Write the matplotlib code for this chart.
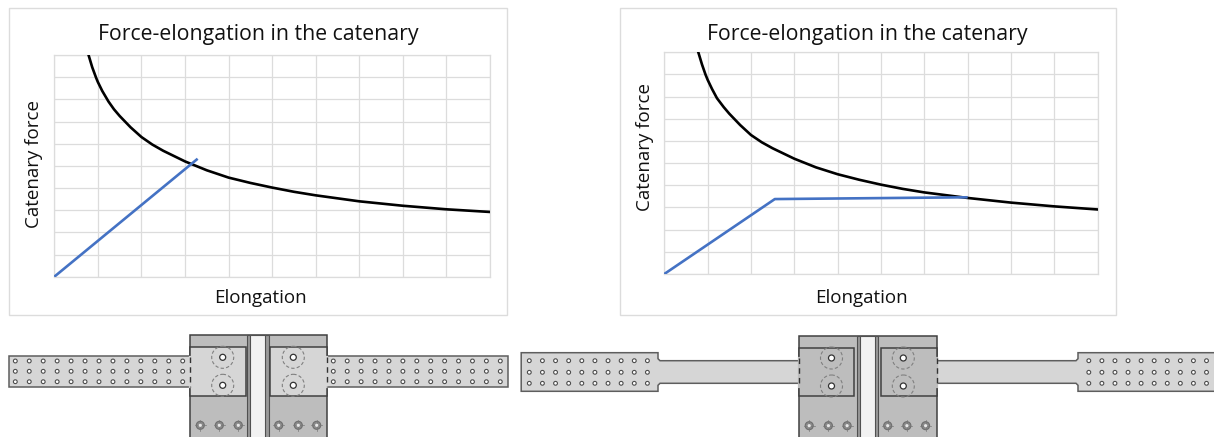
import matplotlib
matplotlib.use('Agg')
import matplotlib.pyplot as plt
from matplotlib.patches import Rectangle, Circle, Polygon
from matplotlib.ticker import MultipleLocator

plt.rcParams['font.family'] = ['Open Sans', 'DejaVu Sans']

W, H = 1214, 437

title = 'Force-elongation in the catenary'
x_label = 'Elongation'
y_label = 'Catenary force'

# valores, em divisoes da grade (0-10)
left_curve_x = [0.786, 0.87, 0.96, 1.0, 1.1, 1.244, 1.37, 1.5, 1.75, 2.0, 2.25, 2.5, 3.0, 3.5, 4.0, 4.5, 5.0, 5.5, 6.0, 7.0, 8.0, 9.0, 10.0]
left_curve_y = [10.0, 9.45, 8.97, 8.78, 8.38, 7.9, 7.55, 7.25, 6.74, 6.3, 5.96, 5.68, 5.2, 4.8, 4.47, 4.23, 4.02, 3.83, 3.67, 3.4, 3.2, 3.04, 2.92]
left_blue_x = [0.0, 3.29]
left_blue_y = [0.0, 5.32]

right_curve_x = [0.785, 0.87, 0.95, 1.0, 1.1, 1.215, 1.37, 1.5, 1.75, 2.0, 2.25, 2.5, 3.0, 3.5, 4.0, 4.5, 5.0, 5.5, 6.0, 7.0, 8.0, 9.0, 10.0]
right_curve_y = [10.0, 9.45, 9.0, 8.76, 8.35, 7.93, 7.53, 7.23, 6.72, 6.27, 5.94, 5.67, 5.2, 4.81, 4.5, 4.25, 4.03, 3.84, 3.68, 3.43, 3.22, 3.05, 2.91]
right_blue_x = [0.0, 2.55, 7.0]
right_blue_y = [0.0, 3.38, 3.46]

GRID = '#dcdcdc'
BLUE = '#4472c4'
STRAP = '#d6d6d6'
BLOCK = '#bdbdbd'
EDGE = '#5e5e5e'

fig = plt.figure(figsize=(W / 100, H / 100), dpi=100)

# camada em pixels para molduras e desenhos das ligacoes
bg = fig.add_axes([0, 0, 1, 1])
bg.set_xlim(0, W)
bg.set_ylim(H, 0)
bg.axis('off')


def rect(x0, y0, x1, y1, fc, ec=EDGE, lw=1.1, z=2):
    bg.add_patch(Rectangle((x0, y0), x1 - x0, y1 - y0, fc=fc, ec=ec, lw=lw, zorder=z))


def chart(x0, x1, y0, y1, curve_x, curve_y, blue_x, blue_y):
    ax = fig.add_axes([x0 / W, 1 - y1 / H, (x1 - x0) / W, (y1 - y0) / H])
    ax.set_xlim(0, 10)
    ax.set_ylim(0, 10)
    ax.patch.set_alpha(0)
    ax.xaxis.set_major_locator(MultipleLocator(1))
    ax.yaxis.set_major_locator(MultipleLocator(1))
    ax.grid(color=GRID, lw=0.9)
    ax.tick_params(length=0, labelbottom=False, labelleft=False)
    ax.set_axisbelow(True)
    for s in ax.spines.values():
        s.set_color(GRID)
        s.set_linewidth(0.9)
    ax.plot(curve_x, curve_y, color='black', lw=1.9, zorder=3, solid_joinstyle='round')
    ax.plot(blue_x, blue_y, color=BLUE, lw=1.9, zorder=4, solid_capstyle='butt')
    return ax


def labels(title_x, xlabel_x, ylabel_x, ylabel_y):
    bg.text(title_x, 34.5, title, fontsize=15.35, ha='center', va='center', color='#111111')
    bg.text(xlabel_x, 298, x_label, fontsize=13.5, ha='center', va='center', color='#111111')
    bg.text(ylabel_x, ylabel_y, y_label, fontsize=13.5, ha='center', va='center',
            rotation=90, color='#111111')


def holes(xs, ys, r=1.9):
    for x in xs:
        for y in ys:
            bg.add_patch(Circle((x, y), r, fc='white', ec='#4d4d4d', lw=0.8, zorder=5))


def spaced(start, stop, n):
    return [start + (stop - start) * i / (n - 1) for i in range(n)]


def connection(x0, x1, y0, web, plates, plate_y, plate_fc, bolts_x, bolts_y, small_x, small_y):
    rect(x0, y0, x1, H + 5, BLOCK, ec='#404040', z=3)
    rect(web[0], y0, web[3], H + 5, '#999999', ec='#505050', lw=0.8, z=4)
    rect(web[1], y0, web[2], H + 5, '#f2f2f2', ec='#505050', lw=0.8, z=4)
    for px0, px1 in plates:
        rect(px0, plate_y[0], px1, plate_y[1], plate_fc, ec='#404040', lw=1.1, z=4)
    # linhas tracejadas onde a chapa entra no bloco
    for x in (x0, x1):
        bg.plot([x, x], [plate_y[0] + 10, plate_y[1] - 9], color=plate_fc, lw=1.6, zorder=5)
        bg.plot([x, x], [plate_y[0] + 10, plate_y[1] - 9], color='#333333', lw=1,
                ls=(0, (4, 3)), zorder=6)
    for x in bolts_x:
        for y in bolts_y:
            bg.add_patch(Circle((x, y), 11, fc='none', ec='#808080', lw=0.8,
                                ls=(0, (3, 2)), zorder=5))
            bg.add_patch(Circle((x, y), 3, fc='white', ec='#333333', lw=0.9, zorder=6))
    for x in small_x:
        bg.add_patch(Circle((x, small_y), 4, fc='#8a8a8a', ec='#6e6e6e', lw=0.8, zorder=5))
        bg.plot([x - 5.5, x + 5.5], [small_y, small_y], color='#777777', lw=0.5, zorder=5)
        bg.plot([x, x], [small_y - 5.5, small_y + 5.5], color='#777777', lw=0.5, zorder=5)
        bg.add_patch(Circle((x, small_y), 1.6, fc='#e8e8e8', ec='none', zorder=6))


# molduras dos graficos
rect(9, 8, 507, 315, 'white', ec='#dcdcdc', lw=1, z=1)
rect(619.5, 8, 1115.5, 315, 'white', ec='#dcdcdc', lw=1, z=1)

chart(54.3, 490, 55, 276.7, left_curve_x, left_curve_y, left_blue_x, left_blue_y)
chart(664.3, 1097.7, 52.3, 274, right_curve_x, right_curve_y, right_blue_x, right_blue_y)

labels(258, 260, 34, 164)
labels(867.7, 861.7, 645, 147)

# ligacao da esquerda
rect(8.5, 355.7, 190, 387, STRAP)
rect(326, 355.7, 507.5, 387, STRAP)
strap_rows = [361, 371.3, 381.7]
holes(spaced(15.3, 182.7, 13), strap_rows)
holes(spaced(333.3, 500.3, 13), strap_rows)
connection(189.5, 326.5, 335.3, (247.3, 250.3, 265.3, 268.7),
           [(189.5, 245.5), (270.3, 326.5)], (346.7, 396.3), STRAP,
           [222.7, 293.3], [357.3, 385.3],
           [200.3, 219.3, 238.3, 278.7, 298.3, 316.7], 425.3)

# ligacao da direita: chapa estreitada
strap_l = [(521.2, 352.7), (658, 352.7), (658, 358.7), (660, 360.7), (799, 360.7), (799, 383.3),
           (660, 383.3), (658, 385.3), (658, 391.3), (521.2, 391.3)]
strap_r = [(1216, 352.7), (1078, 352.7), (1078, 358.7), (1076, 360.7), (936, 360.7), (936, 383.3),
           (1076, 383.3), (1078, 385.3), (1078, 391.3), (1216, 391.3)]
bg.add_patch(Polygon(strap_l, fc=STRAP, ec=EDGE, lw=1.1, zorder=2))
bg.add_patch(Polygon(strap_r, fc=STRAP, ec=EDGE, lw=1.1, zorder=2))
strap_rows_r = [360.7, 372.3, 383.3]
holes(spaced(529.3, 647.4, 10), strap_rows_r)
holes(spaced(1088.8, 1206.5, 10), strap_rows_r)
connection(798.5, 936.8, 336, (857, 859.6, 875.2, 878.4),
           [(798.5, 854.3), (880.6, 936.8)], (348, 396.3), BLOCK,
           [831.5, 903.3], [358, 386],
           [809.2, 828.4, 847.1, 887.7, 906.9, 925.6], 425.7)

fig.savefig('out.png', dpi=100)
